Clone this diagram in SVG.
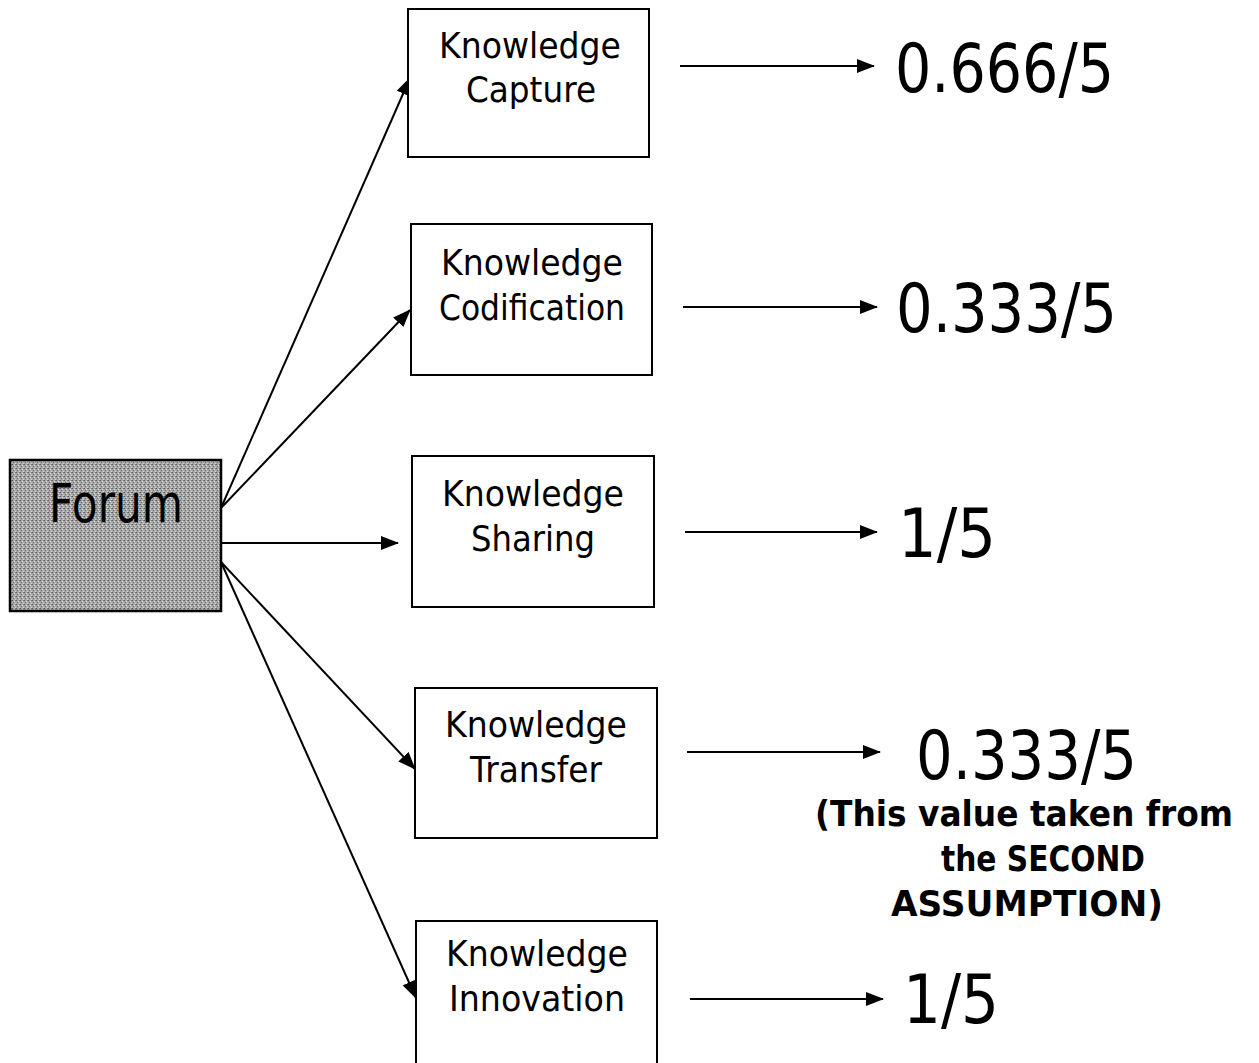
<svg xmlns="http://www.w3.org/2000/svg" width="1259" height="1063" viewBox="0 0 1259 1063">
  <style>
    .box { fill: #ffffff; stroke: #000000; stroke-width: 2; }
    .lbl { font-family: "DejaVu Sans", Verdana, sans-serif; font-size: 36px; fill: #000000; text-anchor: middle; }
    .val { font-family: "DejaVu Sans", Verdana, sans-serif; font-size: 67px; fill: #000000; }
    .note { font-family: "DejaVu Sans", Verdana, sans-serif; font-weight: bold; font-size: 35px; fill: #000000; text-anchor: middle; }
    .edge { stroke: #000000; stroke-width: 2; fill: none; marker-end: url(#head); }
  </style>
  <defs>
    <marker id="head" markerUnits="userSpaceOnUse" markerWidth="18" markerHeight="14" refX="17" refY="7" orient="auto">
      <path d="M0,0 L18,7 L0,14 Z" fill="#000000"/>
    </marker>
    <!-- halftone grey for the source box -->
    <pattern id="grain" width="4" height="4" patternUnits="userSpaceOnUse">
      <rect width="4" height="4" fill="#a8a8a8"/>
      <rect x="0" y="0" width="1" height="1" fill="#5a5a5a"/>
      <rect x="2" y="1" width="1" height="1" fill="#e0e0e0"/>
      <rect x="1" y="2" width="1" height="1" fill="#6a6a6a"/>
      <rect x="3" y="3" width="1" height="1" fill="#d8d8d8"/>
      <rect x="3" y="0" width="1" height="1" fill="#7a7a7a"/>
    </pattern>
  </defs>

  <!-- connectors -->
  <g id="connectors">
    <line class="edge" x1="221" y1="508" x2="410" y2="78"/>
    <line class="edge" x1="221" y1="508" x2="410" y2="310"/>
    <line class="edge" x1="221" y1="543" x2="398" y2="543"/>
    <line class="edge" x1="221" y1="562" x2="415" y2="769"/>
    <line class="edge" x1="221" y1="562" x2="416" y2="998"/>

    <line class="edge" x1="680" y1="66" x2="874" y2="66"/>
    <line class="edge" x1="683" y1="307" x2="877" y2="307"/>
    <line class="edge" x1="685" y1="532" x2="877" y2="532"/>
    <line class="edge" x1="687" y1="752" x2="880" y2="752"/>
    <line class="edge" x1="690" y1="999" x2="883" y2="999"/>
  </g>

  <g id="forum">
    <rect x="10" y="460" width="211" height="151" fill="url(#grain)" stroke="#000000" stroke-width="2.5"/>
    <text x="116" y="522" font-family="'DejaVu Sans', Verdana, sans-serif" font-size="53" text-anchor="middle" textLength="134" lengthAdjust="spacingAndGlyphs">Forum</text>
  </g>

  <g id="capture">
    <rect class="box" x="408" y="9" width="241" height="148"/>
    <text class="lbl" x="530" y="58" textLength="182" lengthAdjust="spacingAndGlyphs">Knowledge</text>
    <text class="lbl" x="531" y="102" textLength="130" lengthAdjust="spacingAndGlyphs">Capture</text>
  </g>

  <g id="codification">
    <rect class="box" x="411" y="224" width="241" height="151"/>
    <text class="lbl" x="532" y="275" textLength="182" lengthAdjust="spacingAndGlyphs">Knowledge</text>
    <text class="lbl" x="532" y="320" textLength="186" lengthAdjust="spacingAndGlyphs">Codification</text>
  </g>

  <g id="sharing">
    <rect class="box" x="412" y="456" width="242" height="151"/>
    <text class="lbl" x="533" y="506" textLength="182" lengthAdjust="spacingAndGlyphs">Knowledge</text>
    <text class="lbl" x="533" y="551" textLength="124" lengthAdjust="spacingAndGlyphs">Sharing</text>
  </g>

  <g id="transfer">
    <rect class="box" x="415" y="688" width="242" height="150"/>
    <text class="lbl" x="536" y="737" textLength="182" lengthAdjust="spacingAndGlyphs">Knowledge</text>
    <text class="lbl" x="536" y="782" textLength="132" lengthAdjust="spacingAndGlyphs">Transfer</text>
  </g>

  <g id="innovation">
    <rect class="box" x="416" y="921" width="241" height="160"/>
    <text class="lbl" x="537" y="966" textLength="182" lengthAdjust="spacingAndGlyphs">Knowledge</text>
    <text class="lbl" x="537" y="1011" textLength="176" lengthAdjust="spacingAndGlyphs">Innovation</text>
  </g>

  <g id="scores">
    <text class="val" x="895" y="92" textLength="219" lengthAdjust="spacingAndGlyphs">0.666/5</text>
    <text class="val" x="896" y="332" textLength="221" lengthAdjust="spacingAndGlyphs">0.333/5</text>
    <text class="val" x="898" y="557" textLength="98" lengthAdjust="spacingAndGlyphs">1/5</text>
    <text class="val" x="916" y="779" textLength="221" lengthAdjust="spacingAndGlyphs">0.333/5</text>
    <text class="val" x="903" y="1023" textLength="96" lengthAdjust="spacingAndGlyphs">1/5</text>
  </g>

  <g id="note">
    <text class="note" x="1024" y="826" textLength="418" lengthAdjust="spacingAndGlyphs">(This value taken from</text>
    <text class="note" x="1043" y="871" textLength="204" lengthAdjust="spacingAndGlyphs">the SECOND</text>
    <text class="note" x="1027" y="916" textLength="272" lengthAdjust="spacingAndGlyphs">ASSUMPTION)</text>
  </g>
</svg>
